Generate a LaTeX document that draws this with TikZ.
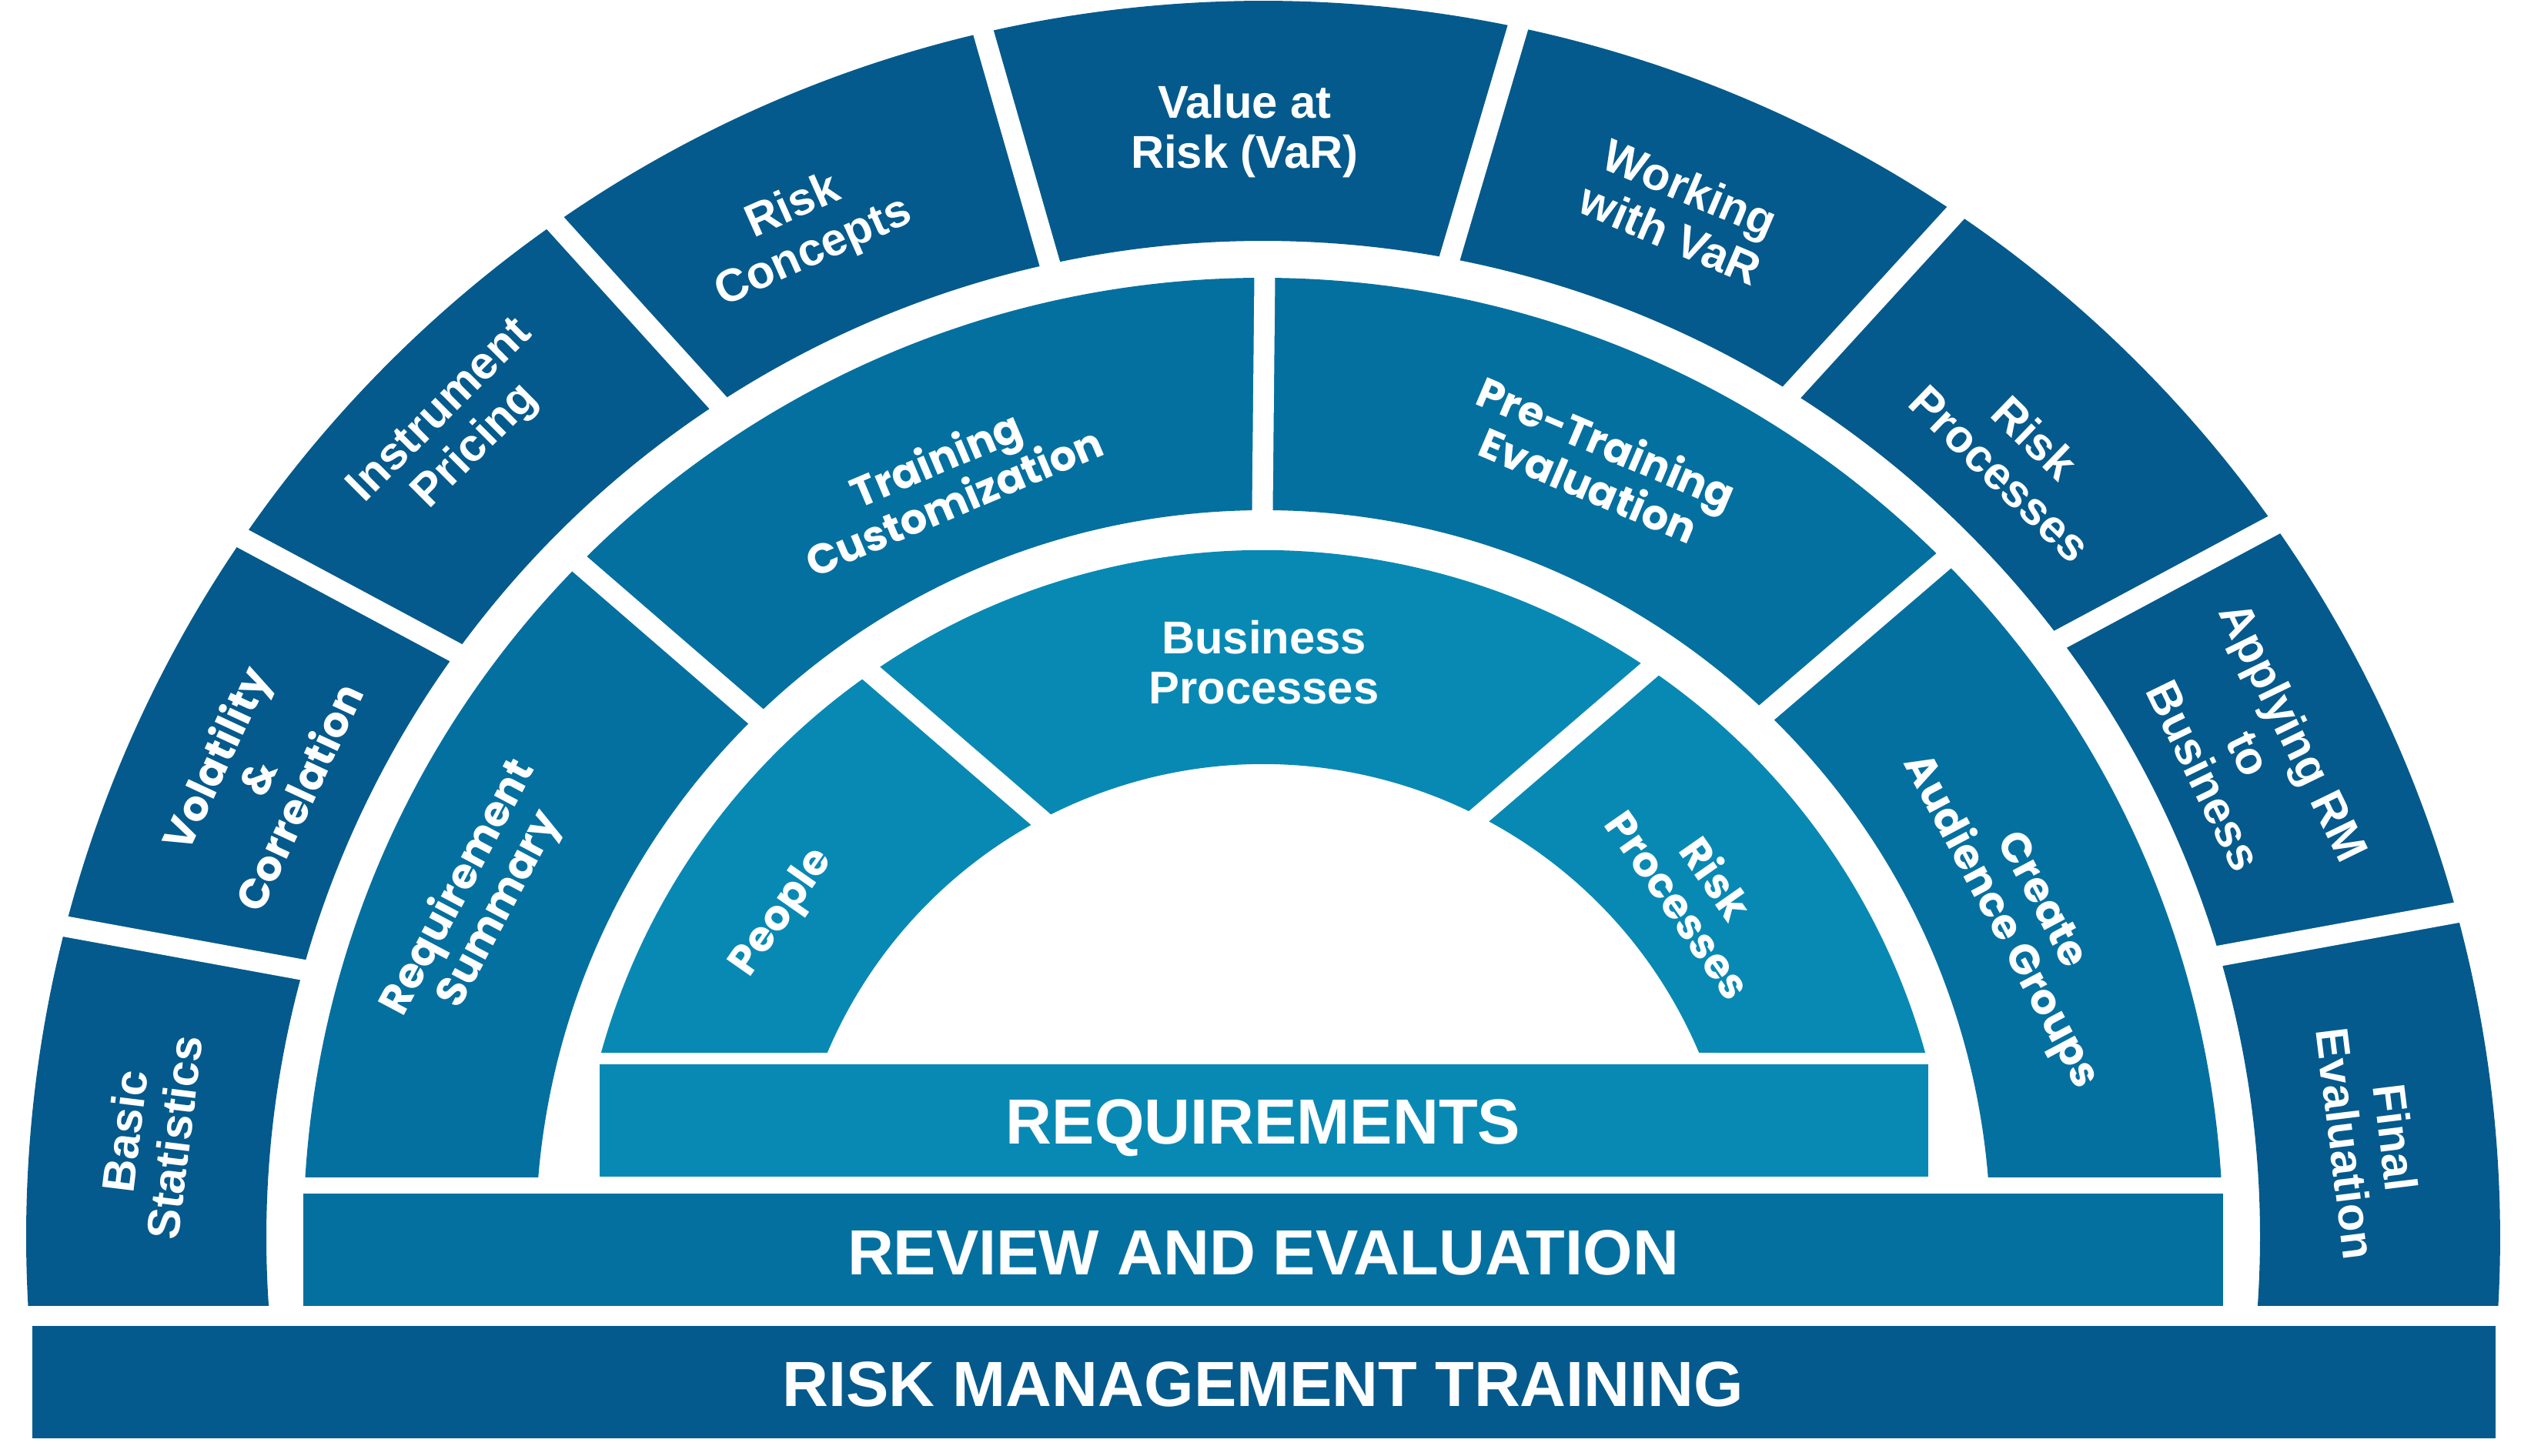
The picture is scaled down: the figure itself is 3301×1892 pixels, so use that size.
\documentclass[tikz,border=0pt]{standalone}
\usepackage{fontspec}
\setmainfont{Liberation Sans}
\newfontfamily\geo{Poppins}
\usetikzlibrary{calc}
\definecolor{cOut}{HTML}{045A8C}
\definecolor{cMid}{HTML}{0470A0}
\definecolor{cIn}{HTML}{0889B4}
\newcommand\gapcut[2]{\draw[gapline] ($#1!-0.07!#2$) -- ($#2!-0.07!#1$);}
\begin{document}
\begin{tikzpicture}[x=0.1mm, y=0.1mm,
  gapline/.style={white, line width=2.7mm, line cap=butt},
  lbl/.style={text=white, font=\bfseries\fontsize{17}{18.5}\selectfont, align=center, inner sep=0pt},
  glbl/.style={text=white, font=\geo\bfseries\fontsize{15.5}{17}\selectfont, align=center, inner sep=0pt},
  barlbl/.style={text=white, font=\bfseries\fontsize{23.6}{26}\selectfont, inner sep=0pt, anchor=base},
]
\useasboundingbox (-1641,-284) rectangle (1660,1608);

% ---- rings ----
\fill[cOut] (183.175:1607) arc[start angle=183.175, end angle=-3.175, radius=1607]
  -- (-3.941:1295) arc[start angle=-3.941, end angle=183.941, radius=1295] -- cycle;
\fill[cMid] (176.414:1247) arc[start angle=176.414, end angle=3.586, radius=1247]
  -- (4.735:945) arc[start angle=4.735, end angle=175.265, radius=945] -- cycle;
\fill[cIn] (164.41:893) arc[start angle=164.41, end angle=15.59, radius=893]
  -- (22.97:615) arc[start angle=22.97, end angle=157.03, radius=615] -- cycle;

% ---- dividers: outer ring ----
\gapcut{(-1561,405)}{(-1249,348)}
\gapcut{(-1329,910)}{(-1049,760)}
\gapcut{(-925,1324)}{(-715,1092)}
\gapcut{(-365,1571)}{(-278,1268)}
\gapcut{(332,1576)}{(243,1275)}
\gapcut{(902,1334)}{(691,1103)}
\gapcut{(1317,928)}{(1037,778)}
\gapcut{(1555,423)}{(1243,366)}
% ---- dividers: middle ring ----
\gapcut{(-889,876)}{(-659,677)}
\gapcut{(2,1247)}{(-1,945)}
\gapcut{(885,880)}{(653,681)}
% ---- dividers: inner ring ----
\gapcut{(-510,734)}{(-290,544)}
\gapcut{(502,738)}{(280,547)}

% ---- bars ----
\fill[cIn]  (-862,79) rectangle (864,225);
\fill[cMid] (-1247,-89) rectangle (1247,57);
\fill[cOut] (-1599,-261) rectangle (1601,-115);
\node[barlbl] (req) at (0,121) {REQUIREMENTS};
\node[barlbl] (rev) at (0,-49) {REVIEW AND EVALUATION};
\node[barlbl] (rmt) at (0,-220) {RISK MANAGEMENT TRAINING};

% ---- outer ring labels ----
\node[lbl, rotate=83] (o1) at (-1447,134) {Basic\\Statistics};
\node[glbl, rotate=65] (o2) at (-1308,598) {Volatility\\\&\\Correlation};
\node[lbl, rotate=45] (o3) at (-1045,1050) {Instrument\\Pricing};
\node[lbl, rotate=24] (o4) at (-597,1309) {Risk\\Concepts};
\node[lbl] (o5) at (-24,1437) {Value at\\Risk (VaR)};
\node[lbl, rotate=-23] (o6) at (542,1334) {Working\\with VaR};
\node[lbl, rotate=-44] (o7) at (980,1016) {Risk\\Processes};
\node[lbl, rotate=-64] (o8) at (1281,629) {Applying RM\\to\\Business};
\node[lbl, rotate=-83] (o9) at (1439,126) {Final\\Evaluation};

% ---- middle ring labels ----
\node[glbl, rotate=62] (m1) at (-1018,440) {Requirement\\Summary};
\node[glbl, rotate=23] (m2) at (-414,985) {Training\\Customization};
\node[glbl, rotate=-23] (m3) at (435,1006) {Pre-Training\\Evaluation};
\node[glbl, rotate=-62] (m4) at (982,423) {Create\\Audience Groups};

% ---- inner ring labels ----
\node[glbl, rotate=55] (i1) at (-624,421) {People};
\node[lbl] (i2) at (1,747) {Business\\Processes};
\node[glbl, rotate=-55] (i3) at (565,450) {Risk\\Processes};
\end{tikzpicture}
\end{document}
